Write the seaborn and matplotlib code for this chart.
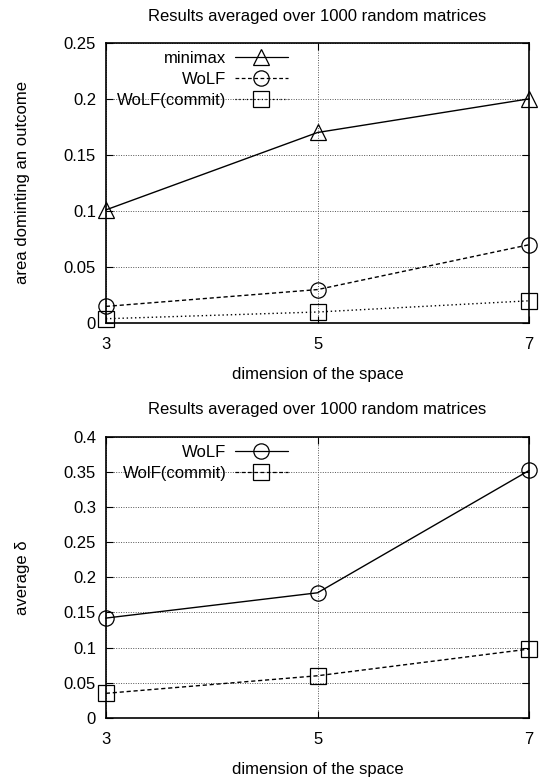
import pandas as pd
import seaborn as sns
import matplotlib.pyplot as plt
from matplotlib.ticker import MultipleLocator

# data
dims = [3, 5, 7]

top_series = ["minimax", "WoLF", "WoLF(commit)"]
minimax = [0.101, 0.170, 0.200]
wolf_top = [0.015, 0.030, 0.070]
commit_top = [0.004, 0.010, 0.020]

bottom_series = ["WoLF", "WolF(commit)"]
wolf_bottom = [0.142, 0.178, 0.352]
commit_bottom = [0.035, 0.060, 0.098]

title = "Results averaged over 1000 random matrices"
xlabel = "dimension of the space"

sns.set_theme(style="ticks")
plt.rcParams.update({
    "font.family": ["Liberation Sans", "DejaVu Sans"],
    "font.size": 12,
    "text.color": "black",
    "axes.labelcolor": "black",
    "xtick.color": "black",
    "ytick.color": "black",
    "axes.edgecolor": "black",
    "axes.linewidth": 1.2,
    "xtick.direction": "in",
    "ytick.direction": "in",
    "xtick.top": True,
    "ytick.right": True,
})


def long_df(names, values):
    rows = []
    for name, vals in zip(names, values):
        for d, v in zip(dims, vals):
            rows.append({"dim": d, "value": v, "series": name})
    return pd.DataFrame(rows)


def draw(ax, df, names, dashes, markers, ylim, ystep, ylabel, anchor):
    sns.lineplot(data=df, x="dim", y="value", hue="series", style="series",
                 hue_order=names, style_order=names,
                 palette=["black"] * len(names), dashes=dashes, markers=markers,
                 markersize=11, markerfacecolor="none", markeredgecolor="black",
                 markeredgewidth=0.9, linewidth=1.0, ax=ax, clip_on=False)
    for ln in ax.lines:
        ln.set_zorder(5)
    ax.set_xlim(3, 7)
    ax.set_ylim(*ylim)
    ax.set_xticks(dims)
    ax.yaxis.set_major_locator(MultipleLocator(ystep))
    ax.yaxis.set_major_formatter(plt.FuncFormatter(lambda v, p: f"{v:g}"))
    ax.grid(True, color="#555555", linestyle=(0, (1, 1.5)), linewidth=0.7)
    ax.tick_params(axis="y", length=5, width=0.8, labelsize=12, pad=7)
    ax.tick_params(axis="x", length=5, width=0.8, labelsize=12, pad=10)
    ax.set_title(title, fontsize=12, pad=16)
    ax.set_xlabel(xlabel, fontsize=12, labelpad=11)
    ax.set_ylabel(ylabel, fontsize=12, labelpad=24)
    handles, labels = ax.get_legend_handles_labels()
    for h in handles:
        h.set_markerfacecolor("none")
        h.set_markersize(11)
        h.set_linewidth(0.9)
    ax.legend(handles, labels, loc="upper right", bbox_to_anchor=anchor,
              frameon=False, markerfirst=False, fontsize=12, handlelength=3.2,
              handletextpad=0.5, labelspacing=0.35, borderaxespad=0.1)


fig = plt.figure(figsize=(5.4, 7.77), dpi=100)
ax1 = fig.add_axes([0.196, 0.584, 0.784, 0.361])
ax2 = fig.add_axes([0.196, 0.076, 0.784, 0.362])

draw(ax1, long_df(top_series, [minimax, wolf_top, commit_top]), top_series,
     {"minimax": "", "WoLF": (3, 2), "WoLF(commit)": (1, 2)},
     {"minimax": "^", "WoLF": "o", "WoLF(commit)": "s"},
     (0, 0.25), 0.05, "area dominting an outcome", (0.45, 1.0))

draw(ax2, long_df(bottom_series, [wolf_bottom, commit_bottom]), bottom_series,
     {"WoLF": "", "WolF(commit)": (3, 2)},
     {"WoLF": "o", "WolF(commit)": "s"},
     (0, 0.4), 0.05, "average δ", (0.45, 1.0))

fig.savefig("out.png", dpi=100)
